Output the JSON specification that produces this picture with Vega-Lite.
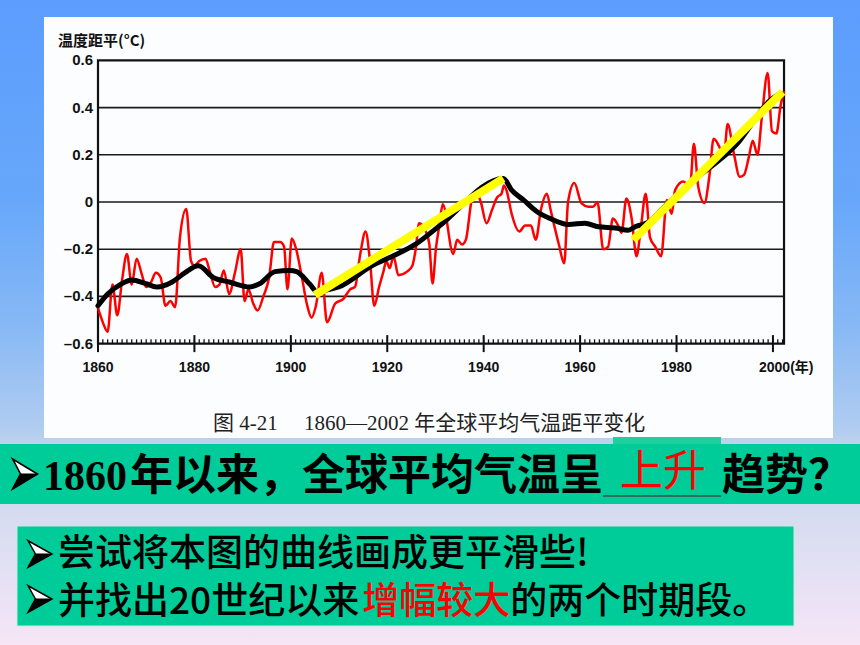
{
  "$schema": "https://vega.github.io/schema/vega-lite/v6.json",
  "width": 860,
  "height": 645,
  "padding": 0,
  "autosize": {"type": "fit", "contains": "padding"},
  "config": {"view": {"stroke": null}, "axis": {"disable": true}},
  "datasets": {
    "red": [
      {"year":1860,"v":-0.45},{"year":1861,"v":-0.51},{"year":1862,"v":-0.55},{"year":1863,"v":-0.35},{"year":1864,"v":-0.48},
      {"year":1865,"v":-0.33},{"year":1866,"v":-0.22},{"year":1867,"v":-0.35},{"year":1868,"v":-0.24},{"year":1869,"v":-0.3},
      {"year":1870,"v":-0.36},{"year":1871,"v":-0.34},{"year":1872,"v":-0.3},{"year":1873,"v":-0.32},{"year":1874,"v":-0.44},
      {"year":1875,"v":-0.42},{"year":1876,"v":-0.445},{"year":1877,"v":-0.15},{"year":1878.3,"v":-0.03},{"year":1879.3,"v":-0.25},
      {"year":1880,"v":-0.27},{"year":1881,"v":-0.25},{"year":1882.3,"v":-0.24},{"year":1883.2,"v":-0.295},{"year":1884.3,"v":-0.36},
      {"year":1885.2,"v":-0.35},{"year":1886.1,"v":-0.29},{"year":1887.2,"v":-0.39},{"year":1888.4,"v":-0.3},{"year":1889.6,"v":-0.2},
      {"year":1890.4,"v":-0.42},{"year":1891.2,"v":-0.37},{"year":1892.2,"v":-0.43},{"year":1893.1,"v":-0.46},{"year":1894.3,"v":-0.4},
      {"year":1895.5,"v":-0.32},{"year":1896.5,"v":-0.17},{"year":1897.8,"v":-0.17},{"year":1898.6,"v":-0.19},{"year":1899.3,"v":-0.37},
      {"year":1900.2,"v":-0.155},{"year":1901.1,"v":-0.2},{"year":1902.3,"v":-0.32},{"year":1903.3,"v":-0.43},{"year":1904.3,"v":-0.49},
      {"year":1905.2,"v":-0.44},{"year":1906.4,"v":-0.3},{"year":1907.5,"v":-0.51},{"year":1909.2,"v":-0.43},{"year":1910.9,"v":-0.41},
      {"year":1912.3,"v":-0.37},{"year":1913.3,"v":-0.36},{"year":1914.4,"v":-0.22},{"year":1915.5,"v":-0.125},{"year":1916.4,"v":-0.245},
      {"year":1917.3,"v":-0.44},{"year":1918.3,"v":-0.36},{"year":1919.2,"v":-0.295},{"year":1919.8,"v":-0.25},{"year":1920.5,"v":-0.28},
      {"year":1921.3,"v":-0.23},{"year":1922.3,"v":-0.31},{"year":1924.1,"v":-0.295},{"year":1925.2,"v":-0.27},{"year":1925.9,"v":-0.2},
      {"year":1926.6,"v":-0.09},{"year":1927.9,"v":-0.12},{"year":1928.7,"v":-0.175},{"year":1929.4,"v":-0.345},{"year":1930.1,"v":-0.196},
      {"year":1930.8,"v":-0.1},{"year":1931.5,"v":-0.01},{"year":1933.7,"v":-0.22},{"year":1934.5,"v":-0.16},{"year":1935.5,"v":-0.18},
      {"year":1936.3,"v":-0.16},{"year":1937.5,"v":0.008},{"year":1938.4,"v":0.045},{"year":1939.4,"v":0.0},{"year":1940.6,"v":-0.09},
      {"year":1941.7,"v":-0.035},{"year":1942.8,"v":0.02},{"year":1943.7,"v":0.035},{"year":1944.2,"v":0.07},{"year":1944.8,"v":0.045},
      {"year":1945.8,"v":-0.05},{"year":1947.4,"v":-0.125},{"year":1948.6,"v":-0.1},{"year":1949.8,"v":-0.1},{"year":1950.8,"v":-0.16},
      {"year":1951.9,"v":-0.03},{"year":1953.1,"v":0.035},{"year":1953.9,"v":-0.035},{"year":1955.6,"v":-0.18},{"year":1956.7,"v":-0.26},
      {"year":1957.5,"v":0.0},{"year":1958.8,"v":0.08},{"year":1960.3,"v":-0.006},{"year":1961.7,"v":-0.02},{"year":1962.7,"v":-0.02},
      {"year":1963.6,"v":0.0},{"year":1964.8,"v":-0.2},{"year":1965.8,"v":-0.19},{"year":1966.8,"v":-0.07},{"year":1967.9,"v":-0.1},
      {"year":1968.6,"v":-0.13},{"year":1969.6,"v":0.015},{"year":1970.7,"v":-0.07},{"year":1971.7,"v":-0.23},{"year":1972.6,"v":-0.11},
      {"year":1973.6,"v":0.035},{"year":1974.5,"v":-0.15},{"year":1975.6,"v":-0.19},{"year":1976.8,"v":-0.23},{"year":1978,"v":0.008},
      {"year":1979,"v":-0.05},{"year":1979.7,"v":0.05},{"year":1981.4,"v":0.087},{"year":1982.8,"v":0.066},{"year":1983.6,"v":0.247},
      {"year":1984.5,"v":0.066},{"year":1985.8,"v":-0.004},{"year":1986.8,"v":0.107},{"year":1987.7,"v":0.268},{"year":1988.9,"v":0.233},
      {"year":1989.8,"v":0.19},{"year":1990.6,"v":0.33},{"year":1991.9,"v":0.205},{"year":1993.1,"v":0.107},{"year":1994,"v":0.115},
      {"year":1995,"v":0.19},{"year":1995.8,"v":0.26},{"year":1996.8,"v":0.2},{"year":1997.7,"v":0.36},{"year":1998.9,"v":0.547},
      {"year":1999.8,"v":0.3},{"year":2000.7,"v":0.29},{"year":2001.6,"v":0.41},{"year":2002.3,"v":0.47}
    ],
    "black": [
      {"year":1860,"v":-0.44},{"year":1862,"v":-0.39},{"year":1864.6,"v":-0.35},{"year":1867,"v":-0.33},{"year":1869.8,"v":-0.345},
      {"year":1872.2,"v":-0.36},{"year":1875.3,"v":-0.34},{"year":1878,"v":-0.3},{"year":1880.8,"v":-0.27},{"year":1883.9,"v":-0.32},
      {"year":1887.4,"v":-0.34},{"year":1891.5,"v":-0.36},{"year":1893.6,"v":-0.345},{"year":1896.7,"v":-0.295},{"year":1899.8,"v":-0.29},
      {"year":1901.2,"v":-0.295},{"year":1904,"v":-0.35},{"year":1905.4,"v":-0.38},{"year":1908,"v":-0.37},{"year":1909.9,"v":-0.36},
      {"year":1916.8,"v":-0.27},{"year":1921.6,"v":-0.225},{"year":1925.8,"v":-0.18},{"year":1930.6,"v":-0.105},{"year":1944.1,"v":0.1},
      {"year":1945.8,"v":0.05},{"year":1948.2,"v":0.01},{"year":1951,"v":-0.04},{"year":1953.8,"v":-0.07},{"year":1957.6,"v":-0.095},
      {"year":1961,"v":-0.09},{"year":1963.8,"v":-0.105},{"year":1967.3,"v":-0.11},{"year":1970,"v":-0.12},{"year":1971.4,"v":-0.105},
      {"year":1974.2,"v":-0.085},{"year":1977,"v":-0.03},{"year":1982.8,"v":0.08},{"year":1992.5,"v":0.245},{"year":1999.4,"v":0.43},
      {"year":2001.5,"v":0.46}
    ],
    "yellow": [
      {"seg":"a","year":1905.0,"v":-0.394},{"seg":"a","year":1944.07,"v":0.1},
      {"seg":"b","year":1971.0,"v":-0.161},{"seg":"b","year":2002.0,"v":0.467}
    ],
    "grid": [{"v":0.4},{"v":0.2},{"v":0},{"v":-0.2},{"v":-0.4}],
    "ylab": [{"v":0.6,"t":"0.6"},{"v":0.4,"t":"0.4"},{"v":0.2,"t":"0.2"},{"v":0,"t":"0"},{"v":-0.2,"t":"–0.2"},{"v":-0.4,"t":"–0.4"},{"v":-0.6,"t":"–0.6"}],
    "xlab": [{"year":1860,"t":"1860"},{"year":1880,"t":"1880"},{"year":1900,"t":"1900"},{"year":1920,"t":"1920"},{"year":1940,"t":"1940"},{"year":1960,"t":"1960"},{"year":1980,"t":"1980"}],
    "majors": [{"year":1860},{"year":1880},{"year":1900},{"year":1920},{"year":1940},{"year":1960},{"year":1980},{"year":2000}],
    "years": [
      {"year":1860},{"year":1861},{"year":1862},{"year":1863},{"year":1864},{"year":1865},{"year":1866},{"year":1867},{"year":1868},{"year":1869},
      {"year":1870},{"year":1871},{"year":1872},{"year":1873},{"year":1874},{"year":1875},{"year":1876},{"year":1877},{"year":1878},{"year":1879},
      {"year":1880},{"year":1881},{"year":1882},{"year":1883},{"year":1884},{"year":1885},{"year":1886},{"year":1887},{"year":1888},{"year":1889},
      {"year":1890},{"year":1891},{"year":1892},{"year":1893},{"year":1894},{"year":1895},{"year":1896},{"year":1897},{"year":1898},{"year":1899},
      {"year":1900},{"year":1901},{"year":1902},{"year":1903},{"year":1904},{"year":1905},{"year":1906},{"year":1907},{"year":1908},{"year":1909},
      {"year":1910},{"year":1911},{"year":1912},{"year":1913},{"year":1914},{"year":1915},{"year":1916},{"year":1917},{"year":1918},{"year":1919},
      {"year":1920},{"year":1921},{"year":1922},{"year":1923},{"year":1924},{"year":1925},{"year":1926},{"year":1927},{"year":1928},{"year":1929},
      {"year":1930},{"year":1931},{"year":1932},{"year":1933},{"year":1934},{"year":1935},{"year":1936},{"year":1937},{"year":1938},{"year":1939},
      {"year":1940},{"year":1941},{"year":1942},{"year":1943},{"year":1944},{"year":1945},{"year":1946},{"year":1947},{"year":1948},{"year":1949},
      {"year":1950},{"year":1951},{"year":1952},{"year":1953},{"year":1954},{"year":1955},{"year":1956},{"year":1957},{"year":1958},{"year":1959},
      {"year":1960},{"year":1961},{"year":1962},{"year":1963},{"year":1964},{"year":1965},{"year":1966},{"year":1967},{"year":1968},{"year":1969},
      {"year":1970},{"year":1971},{"year":1972},{"year":1973},{"year":1974},{"year":1975},{"year":1976},{"year":1977},{"year":1978},{"year":1979},
      {"year":1980},{"year":1981},{"year":1982},{"year":1983},{"year":1984},{"year":1985},{"year":1986},{"year":1987},{"year":1988},{"year":1989},
      {"year":1990},{"year":1991},{"year":1992},{"year":1993},{"year":1994},{"year":1995},{"year":1996},{"year":1997},{"year":1998},{"year":1999},
      {"year":2000},{"year":2001},{"year":2002}
    ],
    "one": [{}],
    "bullets": [{"line": 1}, {"line": 2}]
  },
  "layer": [
    {
      "data": {"name": "one"},
      "mark": {"type": "rect", "fill": {"gradient": "linear", "x1": 0, "y1": 0, "x2": 0, "y2": 1, "stops": [
        {"offset": 0, "color": "#5c9dfe"},
        {"offset": 0.31, "color": "#67a7fa"},
        {"offset": 0.5, "color": "#86b8f5"},
        {"offset": 0.67, "color": "#b2cdf0"},
        {"offset": 0.69, "color": "#c4d2ee"},
        {"offset": 0.8, "color": "#d6dcf0"},
        {"offset": 0.95, "color": "#eee3f6"},
        {"offset": 1, "color": "#f6e6f6"}
      ]}},
      "encoding": {
        "x": {"datum": 1839.672, "type": "quantitative", "scale": {"domain": [1839.672, 2018.058], "nice": false, "zero": false}},
        "x2": {"datum": 2018.058},
        "y": {"datum": -1.87712, "type": "quantitative", "scale": {"domain": [-1.87712, 0.85593], "nice": false, "zero": false}},
        "y2": {"datum": 0.85593}
      }
    },
    {
      "data": {"name": "one"},
      "mark": {"type": "rect", "fill": "#fcfdfe"},
      "encoding": {"x": {"datum": 1848.8}, "x2": {"datum": 2012.46}, "y": {"datum": -1.0}, "y2": {"datum": 0.7839}}
    },
    {
      "data": {"name": "one"},
      "mark": {"type": "text", "text": "温度距平(°C)", "align": "left", "baseline": "alphabetic", "font": "Noto Sans CJK SC", "fontWeight": "bold", "fontSize": 15, "color": "#111"},
      "encoding": {"x": {"datum": 1851.7}, "y": {"datum": 0.661}}
    },
    {
      "data": {"name": "grid"},
      "mark": {"type": "rule", "color": "#1a1a1a", "strokeWidth": 1.6},
      "encoding": {"x": {"datum": 1860}, "x2": {"datum": 2002.3}, "y": {"field": "v", "type": "quantitative"}}
    },
    {
      "data": {"name": "one"},
      "mark": {"type": "rect", "fillOpacity": 0, "stroke": "#111", "strokeWidth": 2.2},
      "encoding": {"x": {"datum": 1860}, "x2": {"datum": 2002.3}, "y": {"datum": -0.6}, "y2": {"datum": 0.6}}
    },
    {
      "data": {"name": "years"},
      "mark": {"type": "rule", "color": "#111", "strokeWidth": 1.3},
      "encoding": {"x": {"field": "year", "type": "quantitative"}, "y": {"datum": -0.6}, "y2": {"datum": -0.582}}
    },
    {
      "data": {"name": "majors"},
      "mark": {"type": "rule", "color": "#111", "strokeWidth": 2},
      "encoding": {"x": {"field": "year", "type": "quantitative"}, "y": {"datum": -0.636}, "y2": {"datum": -0.564}}
    },
    {
      "data": {"name": "ylab"},
      "mark": {"type": "text", "align": "right", "baseline": "middle", "font": "Liberation Sans", "fontWeight": "bold", "fontSize": 15, "color": "#111"},
      "encoding": {"x": {"datum": 1858.96}, "y": {"field": "v", "type": "quantitative"}, "text": {"field": "t"}}
    },
    {
      "data": {"name": "xlab"},
      "mark": {"type": "text", "align": "center", "baseline": "alphabetic", "font": "Liberation Sans", "fontWeight": "bold", "fontSize": 14, "color": "#111"},
      "encoding": {"x": {"field": "year", "type": "quantitative"}, "y": {"datum": -0.7203}, "text": {"field": "t"}}
    },
    {
      "data": {"name": "one"},
      "mark": {"type": "text", "text": "2000(年)", "align": "left", "baseline": "alphabetic", "font": "Liberation Sans, Noto Sans CJK SC", "fontWeight": "bold", "fontSize": 14, "color": "#111"},
      "encoding": {"x": {"datum": 1997.11}, "y": {"datum": -0.7203}}
    },
    {
      "data": {"name": "red"},
      "mark": {"type": "line", "color": "#ff0000", "strokeWidth": 2.5, "interpolate": "monotone"},
      "encoding": {"x": {"field": "year", "type": "quantitative"}, "y": {"field": "v", "type": "quantitative"}}
    },
    {
      "data": {"name": "black"},
      "mark": {"type": "line", "color": "#000000", "strokeWidth": 5, "interpolate": "monotone", "strokeCap": "round", "strokeJoin": "round"},
      "encoding": {"x": {"field": "year", "type": "quantitative"}, "y": {"field": "v", "type": "quantitative"}}
    },
    {
      "data": {"name": "yellow"},
      "mark": {"type": "line", "color": "#ffff00", "strokeWidth": 8, "strokeCap": "butt"},
      "encoding": {"x": {"field": "year", "type": "quantitative"}, "y": {"field": "v", "type": "quantitative"}, "detail": {"field": "seg"}}
    },
    {
      "data": {"name": "one"},
      "mark": {"type": "text", "text": "图 4-21\u2002\u2002\u00a01860—2002 年全球平均气温距平变化", "align": "left", "baseline": "alphabetic", "font": "Liberation Serif, Noto Sans CJK SC", "fontSize": 21, "color": "#222"},
      "encoding": {"x": {"datum": 1883.85}, "y": {"datum": -0.9661}}
    },
    {
      "data": {"name": "one"},
      "mark": {"type": "rect", "fill": "#1fcfa0"},
      "encoding": {"x": {"datum": 1966.82}, "x2": {"datum": 1989.23}, "y": {"datum": -1.0297}, "y2": {"datum": -0.99576}}
    },
    {
      "data": {"name": "one"},
      "mark": {"type": "rect", "fill": "#00cc99"},
      "encoding": {"x": {"datum": 1839.672}, "x2": {"datum": 2018.058}, "y": {"datum": -1.27966}, "y2": {"datum": -1.02542}}
    },
    {
      "data": {"name": "one"},
      "mark": {"type": "rule", "color": "#2e6e5c", "strokeWidth": 2},
      "encoding": {"x": {"datum": 1964.75}, "x2": {"datum": 1989.23}, "y": {"datum": -1.2458}}
    },
    {
      "data": {"name": "one"},
      "mark": {"type": "point", "shape": "M -0.83 -1 L 0.83 0 L -0.83 1 L -0.3 0 Z", "size": 900, "filled": true, "fill": "#ffffff", "stroke": "#000", "strokeWidth": 1.6, "opacity": 1},
      "encoding": {"x": {"datum": 1844.86}, "y": {"datum": -1.1525}}
    },
    {
      "data": {"name": "one"},
      "mark": {"type": "point", "shape": "M -0.83 1 L 0.83 0 L -0.3 0 Z", "size": 900, "filled": true, "fill": "#000", "stroke": "#000", "strokeWidth": 1, "opacity": 1},
      "encoding": {"x": {"datum": 1844.86}, "y": {"datum": -1.1525}}
    },
    {
      "data": {"name": "one"},
      "mark": {"type": "text", "text": "1860", "align": "left", "baseline": "alphabetic", "font": "Liberation Serif", "fontWeight": "bold", "fontSize": 42, "color": "#000"},
      "encoding": {"x": {"datum": 1848.59}, "y": {"datum": -1.2203}}
    },
    {
      "data": {"name": "one"},
      "mark": {"type": "text", "text": "年以来，全球平均气温呈", "align": "left", "baseline": "alphabetic", "font": "Noto Sans CJK SC", "fontWeight": "bold", "fontSize": 43, "color": "#000"},
      "encoding": {"x": {"datum": 1866.64}, "y": {"datum": -1.2203}}
    },
    {
      "data": {"name": "one"},
      "mark": {"type": "text", "text": "上升", "align": "left", "baseline": "alphabetic", "font": "Noto Sans CJK SC", "fontSize": 43, "color": "#ff0000"},
      "encoding": {"x": {"datum": 1968.28}, "y": {"datum": -1.2034}}
    },
    {
      "data": {"name": "one"},
      "mark": {"type": "text", "text": "趋势？", "align": "left", "baseline": "alphabetic", "font": "Noto Sans CJK SC", "fontWeight": "bold", "fontSize": 43, "color": "#000"},
      "encoding": {"x": {"datum": 1989.43}, "y": {"datum": -1.2203}}
    },
    {
      "data": {"name": "one"},
      "mark": {"type": "rect", "fill": "#00cc99", "stroke": "#c8e8e4", "strokeWidth": 1},
      "encoding": {"x": {"datum": 1843.2}, "x2": {"datum": 2004.37}, "y": {"datum": -1.79661}, "y2": {"datum": -1.37288}}
    },
    {
      "data": {"name": "one"},
      "mark": {"type": "point", "shape": "M -0.9 -1 L 0.9 0 L -0.9 1 L -0.35 0 Z", "size": 700, "filled": true, "fill": "#ffffff", "stroke": "#000", "strokeWidth": 1.5, "opacity": 1},
      "encoding": {"x": {"datum": 1847.97}, "y": {"datum": -1.4915}}
    },
    {
      "data": {"name": "one"},
      "mark": {"type": "point", "shape": "M -0.9 1 L 0.9 0 L -0.35 0 Z", "size": 700, "filled": true, "fill": "#000", "stroke": "#000", "strokeWidth": 1, "opacity": 1},
      "encoding": {"x": {"datum": 1847.97}, "y": {"datum": -1.4915}}
    },
    {
      "data": {"name": "one"},
      "mark": {"type": "point", "shape": "M -0.9 -1 L 0.9 0 L -0.9 1 L -0.35 0 Z", "size": 700, "filled": true, "fill": "#ffffff", "stroke": "#000", "strokeWidth": 1.5, "opacity": 1},
      "encoding": {"x": {"datum": 1847.97}, "y": {"datum": -1.6822}}
    },
    {
      "data": {"name": "one"},
      "mark": {"type": "point", "shape": "M -0.9 1 L 0.9 0 L -0.35 0 Z", "size": 700, "filled": true, "fill": "#000", "stroke": "#000", "strokeWidth": 1, "opacity": 1},
      "encoding": {"x": {"datum": 1847.97}, "y": {"datum": -1.6822}}
    },
    {
      "data": {"name": "one"},
      "mark": {"type": "text", "text": "尝试将本图的曲线画成更平滑些!", "align": "left", "baseline": "alphabetic", "font": "Noto Sans CJK SC", "fontWeight": 500, "fontSize": 37, "color": "#000"},
      "encoding": {"x": {"datum": 1851.7}, "y": {"datum": -1.5424}}
    },
    {
      "data": {"name": "one"},
      "mark": {"type": "text", "text": "并找出20世纪以来", "align": "left", "baseline": "alphabetic", "font": "Noto Sans CJK SC", "fontWeight": 500, "fontSize": 37, "color": "#000"},
      "encoding": {"x": {"datum": 1851.7}, "y": {"datum": -1.7458}}
    },
    {
      "data": {"name": "one"},
      "mark": {"type": "text", "text": "增幅较大", "align": "left", "baseline": "alphabetic", "font": "Noto Sans CJK SC", "fontWeight": 500, "fontSize": 37, "color": "#ff0000"},
      "encoding": {"x": {"datum": 1914.8}, "y": {"datum": -1.7458}}
    },
    {
      "data": {"name": "one"},
      "mark": {"type": "text", "text": "的两个时期段。", "align": "left", "baseline": "alphabetic", "font": "Noto Sans CJK SC", "fontWeight": 500, "fontSize": 37, "color": "#000"},
      "encoding": {"x": {"datum": 1945.5}, "y": {"datum": -1.7458}}
    }
  ]
}
